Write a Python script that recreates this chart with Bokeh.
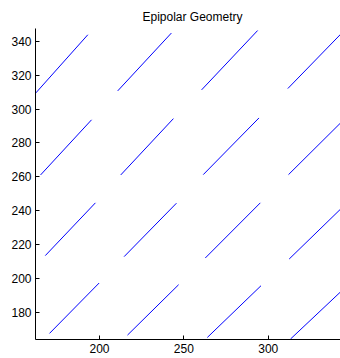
from bokeh.plotting import figure
from bokeh.models import Range1d, FixedTicker, ColumnDataSource
from bokeh.embed import file_html
from bokeh.resources import INLINE

# Segment endpoints (data units)
x_start = [162.3, 210.8, 260.5, 311.6,
           165.1, 212.6, 261.5, 312.0,
           167.9, 214.6, 262.7, 312.4,
           170.4, 216.6, 263.9, 313.2]
y_start = [309.6, 310.8, 311.4, 312.2,
           261.1, 261.1, 261.3, 261.3,
           213.4, 212.8, 212.0, 211.4,
           167.4, 166.4, 165.0, 164.1]
x_end = [193.1, 242.6, 293.7, 345.5,
         195.3, 243.8, 294.5, 345.0,
         197.6, 245.6, 295.3, 345.0,
         199.8, 246.9, 295.7, 345.0]
y_end = [344.0, 345.0, 346.5, 347.0,
         293.7, 294.4, 294.8, 294.0,
         244.6, 244.4, 244.6, 243.0,
         197.2, 196.2, 195.6, 194.0]

x_ticks = [200, 250, 300]
y_ticks = [180, 200, 220, 240, 260, 280, 300, 320, 340]

src = ColumnDataSource(dict(x0=x_start, y0=y_start, x1=x_end, y1=y_end))

p = figure(width=340, height=358, output_backend="svg", toolbar_location=None,
           x_range=Range1d(162.1, 342.8), y_range=Range1d(163.8, 347.7),
           title="Epipolar Geometry",
           min_border_left=35, min_border_right=0, min_border_bottom=19, min_border_top=28)

p.segment(x0="x0", y0="y0", x1="x1", y1="y1", source=src, line_color="#0000ff", line_width=1)

p.title.align = "left"
p.title.text_font = "Liberation Sans"
p.title.text_font_size = "12px"
p.title.text_font_style = "normal"
p.title.text_color = "#000000"
p.title.offset = 107
p.title.standoff = 10

p.grid.visible = False
p.outline_line_color = None
p.background_fill_color = "white"

for ax in (p.xaxis[0], p.yaxis[0]):
    ax.major_tick_in = 4
    ax.major_tick_out = 0
    ax.minor_tick_in = 0
    ax.minor_tick_out = 0
    ax.axis_line_color = "#000000"
    ax.major_tick_line_color = "#000000"
    ax.major_label_text_font = "Liberation Sans"
    ax.major_label_text_font_size = "12px"
    ax.major_label_text_color = "#000000"
    ax.major_label_standoff = 4

p.xaxis[0].ticker = FixedTicker(ticks=x_ticks)
p.yaxis[0].ticker = FixedTicker(ticks=y_ticks)

open("out.html", "w").write(file_html(p, INLINE))
